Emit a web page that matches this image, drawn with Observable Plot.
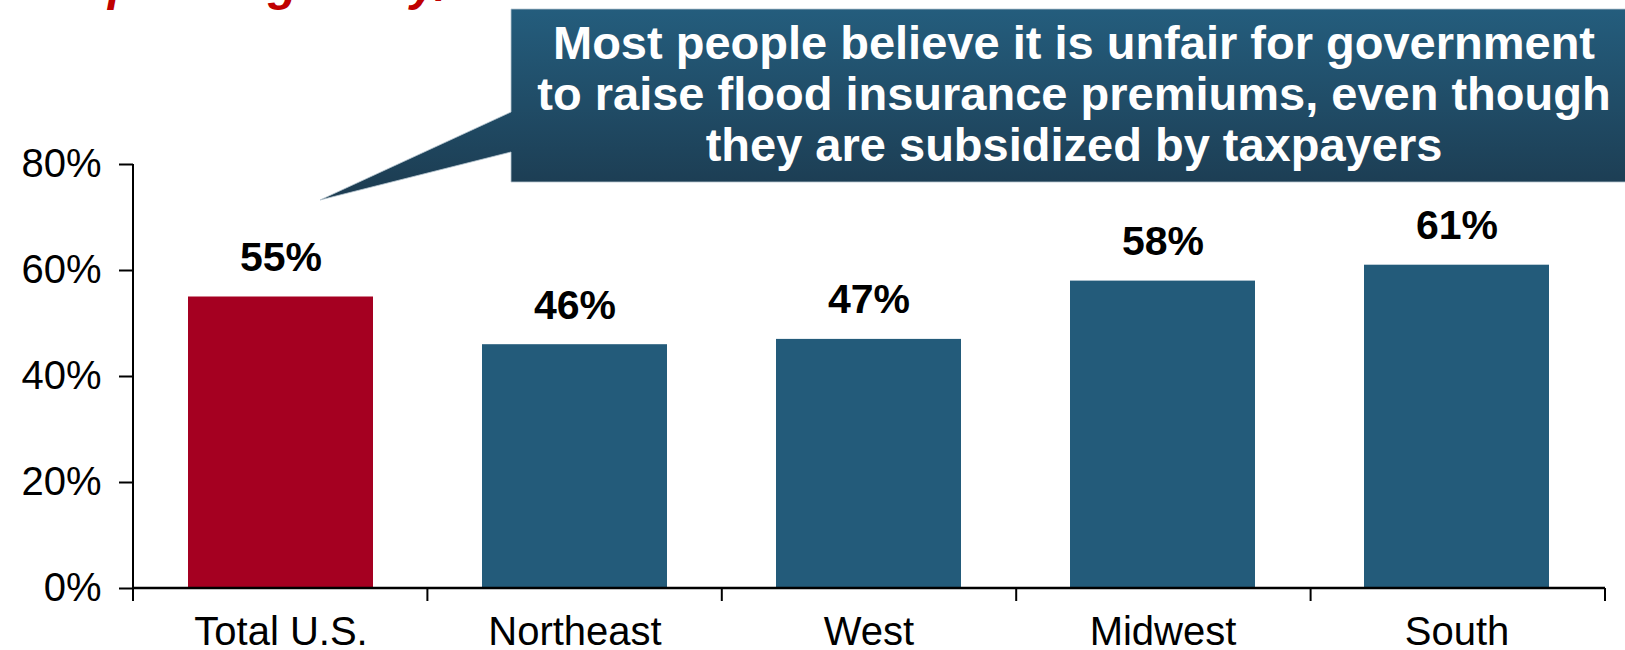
<!DOCTYPE html>
<html>
<head>
<meta charset="utf-8">
<script src="https://cdn.jsdelivr.net/npm/d3@7"></script>
<script src="https://cdn.jsdelivr.net/npm/@observablehq/plot@0.6"></script>
<style>
  html, body { margin: 0; padding: 0; background: #fff; }
  #chart { width: 1625px; height: 650px; overflow: hidden; }
</style>
</head>
<body>
<div id="chart"></div>
<script>
// ---- data ----
const categories = ["Total U.S.", "Northeast", "West", "Midwest", "South"];
const values = [55, 46, 47, 58, 61];
const barColors = ["#a50021", "#235b7a", "#235b7a", "#235b7a", "#235b7a"];
const yTicks = [0, 20, 40, 60, 80];
const calloutLines = [
  "Most people believe it is unfair for government",
  "to raise flood insurance premiums, even though",
  "they are subsidized by taxpayers"
];
const titleText = "Responding \u201cVery/Somewhat Unfair\u201d";

const data = categories.map((c, i) => ({cat: c, value: values[i], color: barColors[i]}));

const W = 1625, H = 650;
const mL = 133, mR = 20, mT = 164, mB = 62;
const font = "'Liberation Sans', Arial, Helvetica, sans-serif";

const chart = Plot.plot({
  width: W,
  height: H,
  marginLeft: mL,
  marginRight: mR,
  marginTop: mT,
  marginBottom: mB,
  style: {fontFamily: font, background: "white", color: "black", overflow: "visible"},
  x: {domain: categories, paddingInner: 0.37, paddingOuter: 0.185},
  y: {domain: [0, 80]},
  color: {type: "identity"},
  marks: [
    Plot.barY(data, {x: "cat", y: "value", fill: "color"}),
    Plot.text(data, {
      x: "cat", y: "value", text: d => d.value + "%",
      dy: -26, lineAnchor: "bottom", fontSize: 41, fontWeight: "bold", fill: "black"
    }),
    Plot.axisY({
      ticks: yTicks, tickFormat: d => d + "%", tickSize: 14, tickPadding: 18,
      fontSize: 40, stroke: "black", strokeWidth: 2, strokeOpacity: 1, label: null
    }),
    Plot.axisX({tickSize: 0, tickPadding: 28, fontSize: 40, label: null})
  ]
});

document.getElementById("chart").appendChild(chart);

// ---- axis lines and category boundary ticks ----
const svg = d3.select(chart);
const xs = chart.scale("x");
const ys = chart.scale("y");
const x0 = xs.range[0], x1 = xs.range[1];
const step = (x1 - x0) / categories.length;
const yBase = ys.apply(0);
const yTop = ys.apply(80);
const deco = svg.append("g").attr("stroke", "black").attr("fill", "none");
deco.append("line").attr("x1", x0).attr("x2", x0).attr("y1", yTop).attr("y2", yBase + 13).attr("stroke-width", 2);
deco.append("line").attr("x1", x0 - 1).attr("x2", x1).attr("y1", yBase).attr("y2", yBase).attr("stroke-width", 2.5);
for (let i = 0; i <= categories.length; i++) {
  const xx = x0 + i * step;
  deco.append("line").attr("x1", xx).attr("x2", xx).attr("y1", yBase).attr("y2", yBase + 13).attr("stroke-width", 2);
}

// ---- title (mostly cropped above the page) ----
svg.append("text")
  .attr("x", 20).attr("y", 0)
  .attr("text-anchor", "start")
  .attr("fill", "#c00000")
  .style("font", `italic bold 48px ${font}`)
  .text(titleText);

// ---- callout box ----
const defs = svg.append("defs");
const grad = defs.append("linearGradient").attr("id", "calloutGrad")
  .attr("gradientUnits", "userSpaceOnUse")
  .attr("x1", 0).attr("x2", 0).attr("y1", 9).attr("y2", 200);
grad.append("stop").attr("offset", "0%").attr("stop-color", "#245d7d");
grad.append("stop").attr("offset", "100%").attr("stop-color", "#1c3b50");

svg.append("path")
  .attr("d", "M511,9 H1650 V182 H511 V152 L320,200 L511,112 Z")
  .attr("fill", "url(#calloutGrad)")
  .attr("stroke", "#b8c6d0").attr("stroke-width", 0.8);

const ct = svg.append("text")
  .attr("text-anchor", "middle")
  .attr("fill", "white")
  .style("font", `bold 47px ${font}`);
calloutLines.forEach((t, i) => {
  ct.append("tspan").attr("x", 1074).attr("y", 59 + i * 51).text(t);
});
</script>
</body>
</html>
